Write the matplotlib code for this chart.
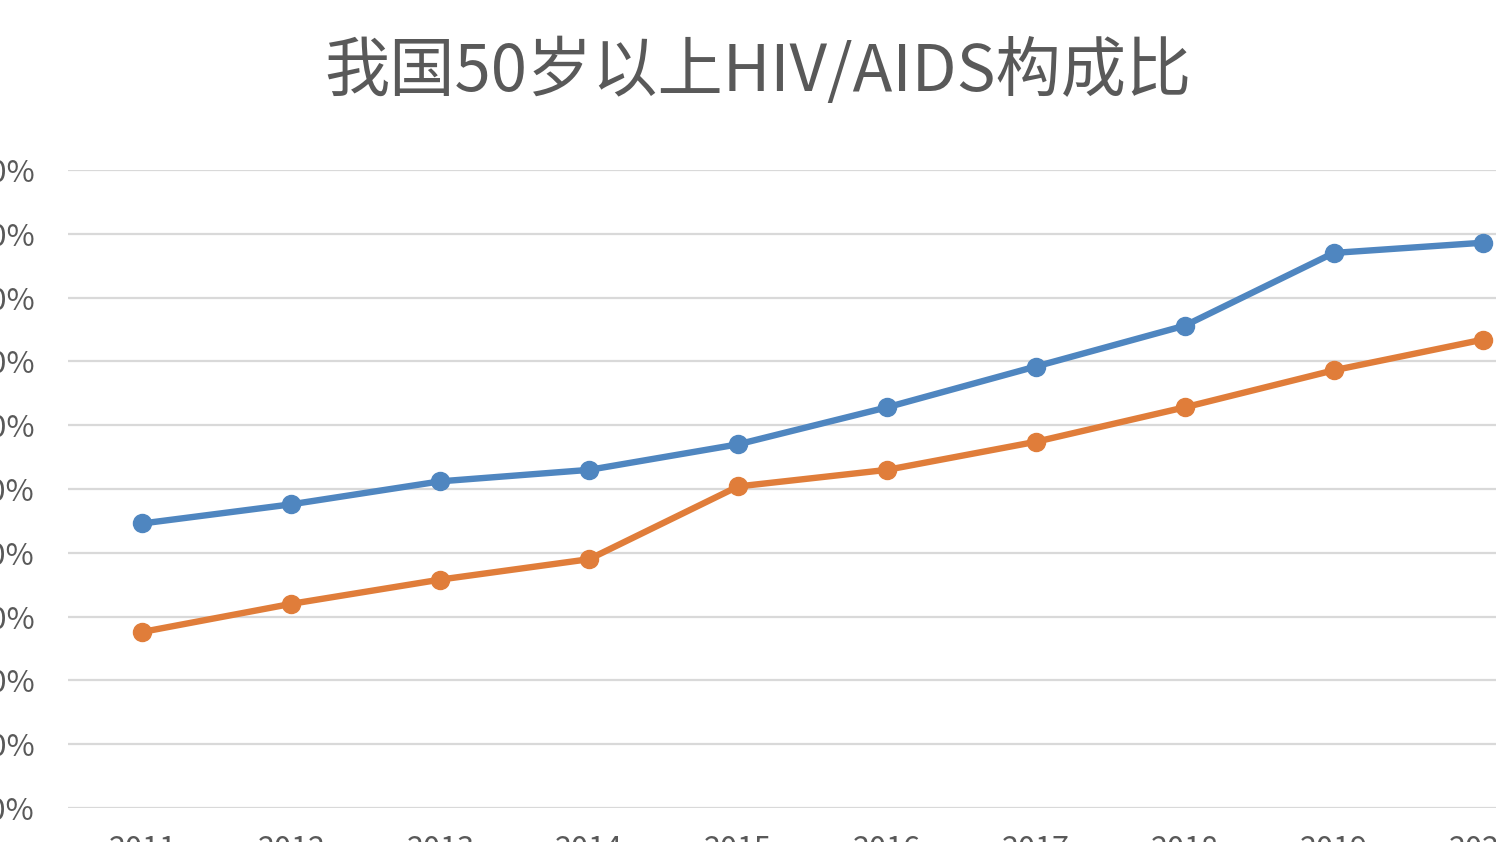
import matplotlib
matplotlib.use('Agg')
import matplotlib.pyplot as plt
from matplotlib.ticker import FuncFormatter

plt.rcParams['font.family'] = ['Noto Sans CJK SC', 'DejaVu Sans']

# data (percent)
years = ['2011', '2012', '2013', '2014', '2015', '2016', '2017', '2018', '2019', '2020']
blue_vals = [22.3, 23.8, 25.6, 26.5, 28.5, 31.4, 34.6, 37.8, 43.5, 44.3]
orange_vals = [13.8, 16.0, 17.9, 19.5, 25.2, 26.5, 28.7, 31.4, 34.3, 36.7]
y_ticks = [0, 5, 10, 15, 20, 25, 30, 35, 40, 45, 50]

W, H = 1496, 842
fig = plt.figure(figsize=(W / 100, H / 100), dpi=100)
fig.patch.set_facecolor('white')

# axes partly outside the canvas, like the cropped original
left, right = 68, 1557
bottom, top = 808, 170
ax = fig.add_axes([left / W, (H - bottom) / H, (right - left) / W, (bottom - top) / H])

x = list(range(len(years)))
ax.plot(x, blue_vals, color='#4f86c0', lw=4.6, marker='o', ms=13,
        solid_capstyle='round', zorder=3)
ax.plot(x, orange_vals, color='#e07d3a', lw=4.6, marker='o', ms=13,
        solid_capstyle='round', zorder=3)

ax.set_xlim(-0.5, len(years) - 0.5)
ax.set_ylim(0, 50)
ax.set_xticks(x)
ax.set_xticklabels(years)
ax.set_yticks(y_ticks)
ax.yaxis.set_major_formatter(FuncFormatter(lambda v, p: f'{v:.1f}%'))

ax.grid(axis='y', color='#d9d9d9', lw=1.6)
ax.set_axisbelow(True)
for s in ax.spines.values():
    s.set_visible(False)
ax.tick_params(axis='both', length=0, labelsize=22, colors='#595959')
ax.tick_params(axis='y', pad=24)
ax.tick_params(axis='x', pad=19)

fig.text(758 / W, 1 - 72 / H, '我国50岁以上HIV/AIDS构成比', ha='center', va='center',
         fontsize=47, color='#595959')

fig.savefig('out.png', dpi=100)
